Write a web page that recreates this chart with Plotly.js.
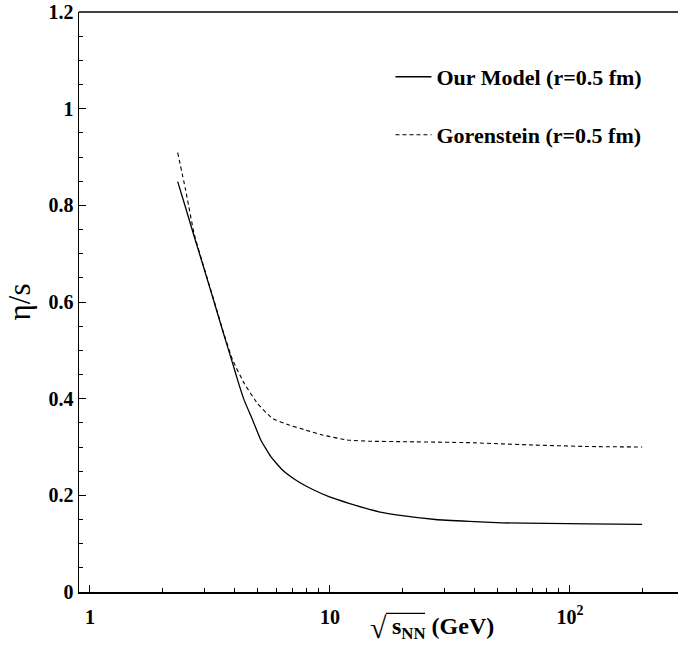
<!DOCTYPE html>
<html>
<head>
<meta charset="utf-8">
<script src="https://cdn.plot.ly/plotly-3.0.1.min.js"></script>
<style>html,body{margin:0;padding:0;background:#fff;}#chart{width:680px;height:645px;}</style>
</head>
<body>
<div id="chart"></div>
<script>
// Data
const sqrtS_model = [2.32, 2.5, 2.72, 2.95, 3.3, 3.57, 3.93, 4.12, 4.39, 4.76, 5.15, 5.67, 6.34, 7.2, 8.44, 9.9, 12.0, 16, 20, 27.5, 38, 52, 80, 120, 200];
const etaS_model  = [0.849, 0.796, 0.735, 0.678, 0.598, 0.541, 0.473, 0.439, 0.397, 0.356, 0.3145, 0.280, 0.2524, 0.2317, 0.2125, 0.1972, 0.1835, 0.166, 0.158, 0.150, 0.146, 0.143, 0.142, 0.141, 0.140];
const sqrtS_gor   = [2.32, 2.5, 2.72, 2.95, 3.3, 3.57, 3.93, 4.39, 4.99, 5.76, 6.75, 7.93, 9.29, 11.8, 14.5, 20, 37.8, 71.5, 120, 200];
const etaS_gor    = [0.909, 0.833, 0.740, 0.680, 0.600, 0.543, 0.480, 0.432, 0.390, 0.359, 0.3455, 0.335, 0.325, 0.3145, 0.312, 0.311, 0.309, 0.304, 0.301, 0.300];
const seriesNames = ['Our Model (r=0.5 fm)', 'Gorenstein (r=0.5 fm)'];
const xTickVals = [1, 10, 100];
const xTickText = ['1', '10', '10<sup>2</sup>'];
const yTickVals = [0, 0.2, 0.4, 0.6, 0.8, 1, 1.2];
const yTickText = ['0', '0.2', '0.4', '0.6', '0.8', '1', '1.2'];

const serif = '"Liberation Serif", "Times New Roman", serif';

const traces = [
  {x: sqrtS_model, y: etaS_model, name: seriesNames[0], mode: 'lines',
   line: {color: '#000', width: 1.3, shape: 'spline', smoothing: 0.4}, legend: 'legend'},
  {x: sqrtS_gor, y: etaS_gor, name: seriesNames[1], mode: 'lines',
   line: {color: '#000', width: 1.1, dash: '4px,3px', shape: 'spline', smoothing: 0.4}, legend: 'legend2'}
];

const legFont = {family: serif, size: 22, color: '#000', weight: 'bold'};

const layout = {
  width: 680, height: 645,
  margin: {l: 79, r: 2, t: 12, b: 53},
  paper_bgcolor: '#fff', plot_bgcolor: '#fff',
  font: {family: serif, color: '#000'},
  xaxis: {
    type: 'log', range: [Math.log10(0.9), Math.log10(282)],
    tickvals: xTickVals, ticktext: xTickText,
    ticks: 'inside', ticklen: 7, tickwidth: 1, tickcolor: '#000',
    minor: {ticks: 'inside', ticklen: 4, tickwidth: 1, tickcolor: '#000', dtick: 'D1', showgrid: false},
    tickfont: {family: serif, size: 20, weight: 'bold', color: '#000'},
    ticklabelstandoff: 6,
    showline: true, linecolor: '#000', linewidth: 1.5,
    showgrid: false, zeroline: false
  },
  yaxis: {
    range: [0, 1.2],
    tickvals: yTickVals, ticktext: yTickText,
    ticks: 'inside', ticklen: 7, tickwidth: 1, tickcolor: '#000',
    minor: {ticks: 'inside', ticklen: 4, tickwidth: 1, tickcolor: '#000', dtick: 0.05, showgrid: false},
    tickfont: {family: serif, size: 20, weight: 'bold', color: '#000'},
    showline: true, linecolor: '#000', linewidth: 1.5,
    showgrid: false, zeroline: false,
    title: {text: 'η/s', font: {family: serif, size: 31, color: '#000'}, standoff: 8}
  },
  showlegend: true,
  legend: {x: 0.52, y: 0.888, xanchor: 'left', yanchor: 'middle', itemwidth: 36, bgcolor: 'rgba(0,0,0,0)', font: legFont},
  legend2: {x: 0.52, y: 0.788, xanchor: 'left', yanchor: 'middle', itemwidth: 36, bgcolor: 'rgba(0,0,0,0)', font: legFont},
  shapes: [
    {type: 'line', xref: 'paper', yref: 'paper', x0: 0, x1: 1, y0: 1, y1: 1, line: {color: '#000', width: 1.5}},
    {type: 'line', xref: 'paper', yref: 'paper', x0: 0.5125, x1: 0.5776, y0: -0.0367, y1: -0.0367, line: {color: '#000', width: 1.2}}
  ],
  annotations: [
    {xref: 'paper', yref: 'paper', x: 0.5175, y: -0.062, xanchor: 'right', yanchor: 'middle', showarrow: false,
     text: '√', font: {family: serif, size: 30, color: '#000'}},
    {xref: 'paper', yref: 'paper', x: 0.519, y: -0.062, xanchor: 'left', yanchor: 'middle', showarrow: false,
     text: 's<sub>NN</sub> (GeV)', font: {family: serif, size: 24, weight: 'bold', color: '#000'}}
  ]
};

Plotly.newPlot('chart', traces, layout, {displayModeBar: false, staticPlot: true});
</script>
</body>
</html>
